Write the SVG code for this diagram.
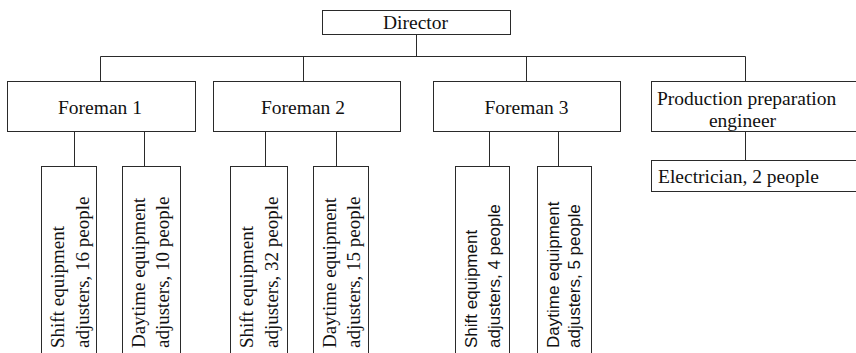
<svg xmlns="http://www.w3.org/2000/svg" width="856" height="353" viewBox="0 0 856 353">
<style>
.box{fill:#fff;stroke:#2a2a2a;stroke-width:1}
.ln{fill:none;stroke:#2a2a2a;stroke-width:1}
.t{font-family:"Liberation Serif","Times New Roman",serif;font-size:19px;fill:#111}
.h{font-size:19.5px}
.s{font-family:"Liberation Sans",Arial,sans-serif;font-size:17px;fill:#111}
.m{text-anchor:middle}
</style>
<rect width="856" height="353" fill="#fff"/>
<g id="connectors">
<path class="ln" d="M416.5 34.5V56.5M100.5 56.5H745.5M100.5 56.5V81.5M303.5 56.5V81.5M526.5 56.5V81.5M745.5 56.5V81.5M745.5 131.5V160.5"/>
<path class="ln" d="M74.5 131.5V166.5M144.5 131.5V166.5M265.5 131.5V166.5M336.5 131.5V166.5M489.5 131.5V166.5M558.5 131.5V166.5"/>
</g>
<g id="director"><rect class="box" x="322.5" y="10.5" width="188" height="24"/><text class="t h m" x="415.5" y="29">Director</text></g>
<g id="foreman1"><rect class="box" x="7.5" y="81.5" width="188" height="50"/><text class="t h m" x="100" y="114">Foreman 1</text></g>
<g id="foreman2"><rect class="box" x="213.5" y="81.5" width="187" height="50"/><text class="t h m" x="303" y="114">Foreman 2</text></g>
<g id="foreman3"><rect class="box" x="433.5" y="81.5" width="187" height="50"/><text class="t h m" x="526.5" y="114">Foreman 3</text></g>
<g id="engineer"><rect class="box" x="651.5" y="81.5" width="215" height="50"/><text class="t h" x="657" y="105">Production preparation</text><text class="t h m" x="742.5" y="126.5">engineer</text></g>
<g id="electrician"><rect class="box" x="651.5" y="160.5" width="215" height="31"/><text class="t h" x="658" y="183">Electrician, 2 people</text></g>
<g id="f1shift"><rect class="box" x="41.5" y="166.5" width="55" height="200"/><text class="t" transform="translate(64,348) rotate(-90)">Shift equipment</text><text class="t" transform="translate(89,348) rotate(-90)">adjusters, 16 people</text></g>
<g id="f1day"><rect class="box" x="122.5" y="166.5" width="58" height="200"/><text class="t" transform="translate(145,348) rotate(-90)">Daytime equipment</text><text class="t" transform="translate(169,348) rotate(-90)">adjusters, 10 people</text></g>
<g id="f2shift"><rect class="box" x="230.5" y="166.5" width="57" height="200"/><text class="t" transform="translate(253,348) rotate(-90)">Shift equipment</text><text class="t" transform="translate(278,348) rotate(-90)">adjusters, 32 people</text></g>
<g id="f2day"><rect class="box" x="313.5" y="166.5" width="55" height="200"/><text class="t" transform="translate(336,348) rotate(-90)">Daytime equipment</text><text class="t" transform="translate(360,348) rotate(-90)">adjusters, 15 people</text></g>
<g id="f3shift"><rect class="box" x="455.5" y="166.5" width="54" height="200"/><text class="s" transform="translate(477,348) rotate(-90)">Shift equipment</text><text class="s" transform="translate(500,348) rotate(-90)">adjusters, 4 people</text></g>
<g id="f3day"><rect class="box" x="537.5" y="166.5" width="54" height="200"/><text class="s" transform="translate(559,348) rotate(-90)">Daytime equipment</text><text class="s" transform="translate(580,348) rotate(-90)">adjusters, 5 people</text></g>
</svg>
